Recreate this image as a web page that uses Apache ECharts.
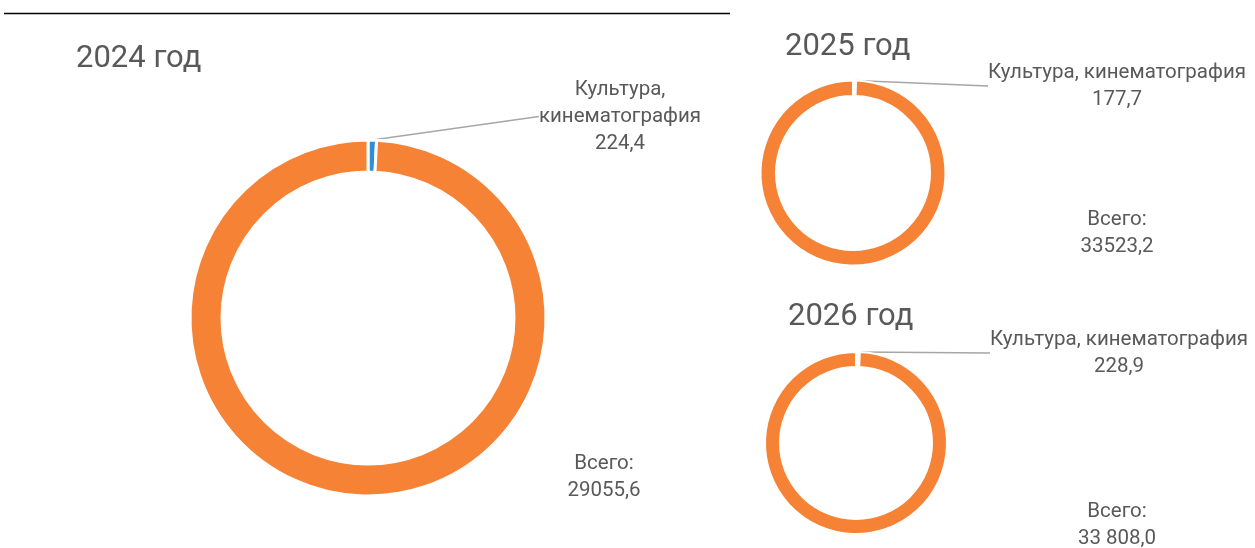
<!DOCTYPE html>
<html>
<head>
<meta charset="utf-8">
<script src="https://cdn.jsdelivr.net/npm/echarts@6/dist/echarts.min.js"></script>
<style>
  html, body { margin: 0; padding: 0; background: #fff; }
</style>
</head>
<body>
<div id="main" style="width:1255px;height:548px;"></div>
<script>
// данные
var years = ['2024 год', '2025 год', '2026 год'];
var cultureNames = ['Культура,\nкинематография', 'Культура, кинематография', 'Культура, кинематография'];
var cultureValues = [224.4, 177.7, 228.9];
var totalValues = [29055.6, 33523.2, 33808.0];
var cultureLabels = ['224,4', '177,7', '228,9'];
var totalLabels = ['29055,6', '33523,2', '33 808,0'];

var textColor = '#595959';
var fontFamily = 'Roboto, "Noto Sans", sans-serif';

// геометрия колец
var centers = [[368, 318], [853, 173], [856, 443]];
var radii = [[146, 178], [77, 92.5], [76, 91]];
var cultureColors = ['#2e8fd6', '#ffffff', '#ffffff'];
var borderWidths = [3, 2, 2];
var titlePos = [[71, 39], [780, 27], [783, 297]];
// позиции подписей: [x центра, y верха]
var culturePos = [[620, 76], [1117, 59], [1119, 326]];
var totalPos = [[604, 450], [1117, 206], [1117, 498]];

var myChart = echarts.init(document.getElementById('main'));

function makeLayout(idx) {
  return function (params) {
    var p = params.dataIndex === 0 ? culturePos[idx] : totalPos[idx];
    return { x: p[0], y: p[1], align: 'center', verticalAlign: 'top' };
  };
}

var series = [];
var titles = [];
for (var i = 0; i < years.length; i++) {
  titles.push({
    text: years[i],
    left: titlePos[i][0],
    top: titlePos[i][1],
    textStyle: { color: textColor, fontSize: 31, fontWeight: 'normal', fontFamily: fontFamily }
  });
  series.push({
    type: 'pie',
    center: centers[i],
    radius: radii[i],
    startAngle: 90,
    clockwise: true,
    silent: true,
    animation: false,
    itemStyle: { borderColor: '#fff', borderWidth: borderWidths[i] },
    label: {
      show: true,
      color: textColor,
      fontSize: 20.5,
      lineHeight: 27,
      fontFamily: fontFamily,
      align: 'center'
    },
    labelLine: {
      show: true,
      length: 10,
      length2: 0,
      lineStyle: { color: '#a6a6a6', width: 1.5 }
    },
    labelLayout: makeLayout(i),
    data: [
      {
        name: cultureNames[i],
        value: cultureValues[i],
        itemStyle: { color: cultureColors[i] },
        label: { formatter: cultureNames[i] + '\n' + cultureLabels[i] }
      },
      {
        name: 'Всего:',
        value: totalValues[i],
        itemStyle: { color: '#f58235' },
        label: { formatter: 'Всего:\n' + totalLabels[i] },
        labelLine: { show: false }
      }
    ]
  });
}

var option = {
  backgroundColor: '#fff',
  title: titles,
  graphic: [{
    type: 'line',
    shape: { x1: 4, y1: 13.5, x2: 730, y2: 13.5 },
    style: { stroke: '#000', lineWidth: 1.5 },
    silent: true
  }],
  series: series
};

myChart.setOption(option);
</script>
</body>
</html>
